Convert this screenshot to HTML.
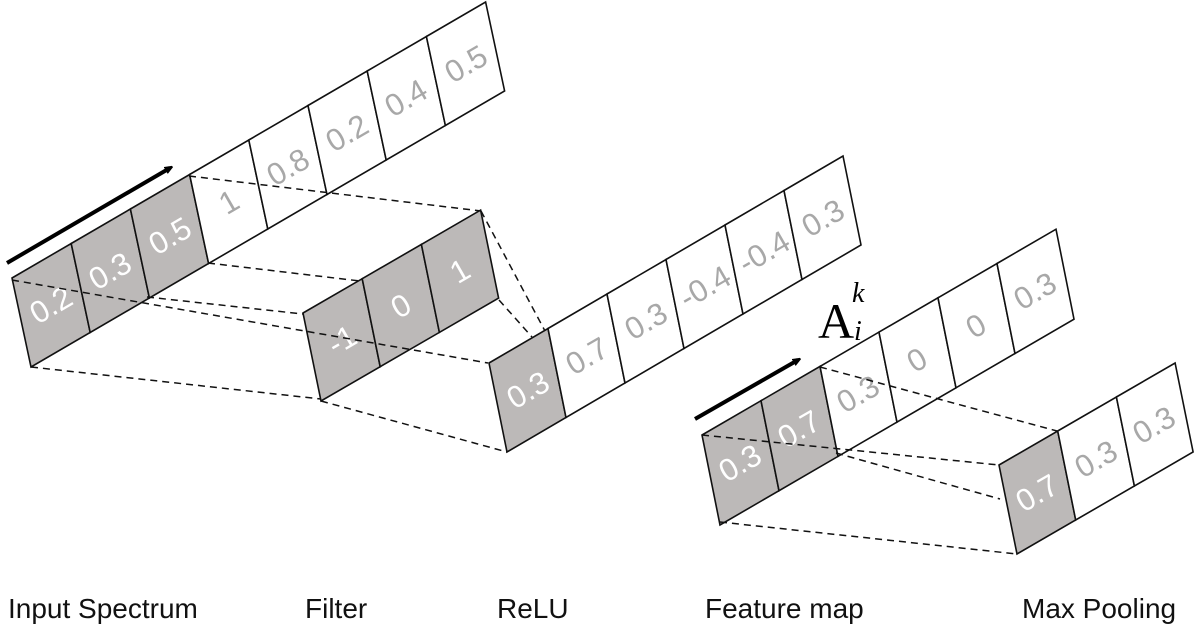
<!DOCTYPE html>
<html><head><meta charset="utf-8"><style>
html,body{margin:0;padding:0;background:#fff;width:1200px;height:630px;overflow:hidden}
svg{display:block}
.c{stroke:#111;stroke-width:1.6;fill:#fff}
.g{fill:#bcb9b8}
.d{stroke:#111;stroke-width:1.5;stroke-dasharray:7 5;fill:none}
.t{font-family:"Liberation Sans",sans-serif;font-size:31px;text-anchor:middle;dominant-baseline:central;fill:#a8a8a8}
.w{fill:#fff}
.lab{font-family:"Liberation Sans",sans-serif;font-size:28px;fill:#111}
</style></head><body>
<svg width="1200" height="630" viewBox="0 0 1200 630" xmlns="http://www.w3.org/2000/svg">
<defs><marker id="ah" markerWidth="8" markerHeight="8" refX="5" refY="4" orient="auto" markerUnits="userSpaceOnUse"><path d="M0,0 L10,4 L0,8 z" fill="#000"/></marker></defs>
<!-- input -->
<g>
<path class="c g" d="M12,278 l59.2,-34.5 l19,89 l-59.2,34.5 z"/>
<path class="c g" d="M71.2,243.5 l59.2,-34.5 l19,89 l-59.2,34.5 z"/>
<path class="c g" d="M130.4,209 l59.2,-34.5 l19,89 l-59.2,34.5 z"/>
<path class="c" d="M189.6,174.5 l59.2,-34.5 l19,89 l-59.2,34.5 z"/>
<path class="c" d="M248.8,140 l59.2,-34.5 l19,89 l-59.2,34.5 z"/>
<path class="c" d="M308,105.5 l59.2,-34.5 l19,89 l-59.2,34.5 z"/>
<path class="c" d="M367.2,71 l59.2,-34.5 l19,89 l-59.2,34.5 z"/>
<path class="c" d="M426.4,36.5 l59.2,-34.5 l19,89 l-59.2,34.5 z"/>
</g>
<text class="t w" transform="translate(51,305) rotate(-30)">0.2</text>
<text class="t w" transform="translate(110,271) rotate(-30)">0.3</text>
<text class="t w" transform="translate(170,236) rotate(-30)">0.5</text>
<text class="t" transform="translate(229,202) rotate(-30)">1</text>
<text class="t" transform="translate(288,167) rotate(-30)">0.8</text>
<text class="t" transform="translate(347,133) rotate(-30)">0.2</text>
<text class="t" transform="translate(406,98) rotate(-30)">0.4</text>
<text class="t" transform="translate(466,64) rotate(-30)">0.5</text>
<!-- filter -->
<path class="c g" d="M303,313 l59.2,-34.3 l18,88 l-59.2,34.3 z"/>
<path class="c g" d="M362.2,278.7 l59.2,-34.3 l18,88 l-59.2,34.3 z"/>
<path class="c g" d="M421.4,244.4 l59.2,-34.3 l18,88 l-59.2,34.3 z"/>
<text class="t w" transform="translate(342,340) rotate(-30)">-1</text>
<text class="t w" transform="translate(401,306) rotate(-30)">0</text>
<text class="t w" transform="translate(460,271) rotate(-30)">1</text>
<!-- relu -->
<path class="c g" d="M489,363 l59,-34.5 l18,89 l-59,34.5 z"/>
<path class="c" d="M548,328.5 l59,-34.5 l18,89 l-59,34.5 z"/>
<path class="c" d="M607,294 l59,-34.5 l18,89 l-59,34.5 z"/>
<path class="c" d="M666,259.5 l59,-34.5 l18,89 l-59,34.5 z"/>
<path class="c" d="M725,225 l59,-34.5 l18,89 l-59,34.5 z"/>
<path class="c" d="M784,190.5 l59,-34.5 l18,89 l-59,34.5 z"/>
<text class="t w" transform="translate(528,390) rotate(-30)">0.3</text>
<text class="t" transform="translate(587,356) rotate(-30)">0.7</text>
<text class="t" transform="translate(646,321) rotate(-30)">0.3</text>
<text class="t" transform="translate(705,287) rotate(-30)">-0.4</text>
<text class="t" transform="translate(764,252) rotate(-30)">-0.4</text>
<text class="t" transform="translate(823,218) rotate(-30)">0.3</text>
<!-- feature -->
<path class="c g" d="M702,435 l59,-34.3 l18,90 l-59,34.3 z"/>
<path class="c g" d="M761,400.7 l59,-34.3 l18,90 l-59,34.3 z"/>
<path class="c" d="M820,366.4 l59,-34.3 l18,90 l-59,34.3 z"/>
<path class="c" d="M879,332.1 l59,-34.3 l18,90 l-59,34.3 z"/>
<path class="c" d="M938,297.8 l59,-34.3 l18,90 l-59,34.3 z"/>
<path class="c" d="M997,263.5 l59,-34.3 l18,90 l-59,34.3 z"/>
<text class="t w" transform="translate(740,463) rotate(-30)">0.3</text>
<text class="t w" transform="translate(799,429) rotate(-30)">0.7</text>
<text class="t" transform="translate(858,394) rotate(-30)">0.3</text>
<text class="t" transform="translate(917,360) rotate(-30)">0</text>
<text class="t" transform="translate(976,326) rotate(-30)">0</text>
<text class="t" transform="translate(1035,291) rotate(-30)">0.3</text>
<!-- max pool -->
<path class="c g" d="M999,465 l58.7,-34 l18,89 l-58.7,34 z"/>
<path class="c" d="M1057.7,431 l58.7,-34 l18,89 l-58.7,34 z"/>
<path class="c" d="M1116.4,397 l58.7,-34 l18,89 l-58.7,34 z"/>
<text class="t w" transform="translate(1037,493) rotate(-30)">0.7</text>
<text class="t" transform="translate(1096,459) rotate(-30)">0.3</text>
<text class="t" transform="translate(1154,425) rotate(-30)">0.3</text>
<!-- dashed lines (on top) -->
<path class="d" d="M189,176 L481,211"/>
<path class="d" d="M208,263 L360,281"/>
<path class="d" d="M12,280 L488,363"/>
<path class="d" d="M147,297 L303,314"/>
<path class="d" d="M31,367 L321,399"/>
<path class="d" d="M481,211 L545,331"/>
<path class="d" d="M499,300 L532,337"/>
<path class="d" d="M321,401 L507,452"/>
<path class="d" d="M820,367 L1057,431"/>
<path class="d" d="M702,435 L999,465"/>
<path class="d" d="M836,453 L1000,499"/>
<path class="d" d="M720,522 L1017,554"/>
<!-- arrows -->
<line x1="7" y1="263" x2="170" y2="168" stroke="#000" stroke-width="4" marker-end="url(#ah)"/>
<line x1="695" y1="419" x2="798" y2="360" stroke="#000" stroke-width="4" marker-end="url(#ah)"/>
<!-- A_i^k -->
<text x="818" y="338" style="font-family:'Liberation Serif',serif;font-size:50px;fill:#000">A</text>
<text x="852" y="302" style="font-family:'Liberation Serif',serif;font-size:28px;font-style:italic;fill:#000">k</text>
<text x="854" y="340" style="font-family:'Liberation Serif',serif;font-size:28px;font-style:italic;fill:#000">i</text>
<!-- labels -->
<text class="lab" x="8" y="618">Input Spectrum</text>
<text class="lab" x="305" y="618">Filter</text>
<text class="lab" x="497" y="618">ReLU</text>
<text class="lab" x="705" y="618">Feature map</text>
<text class="lab" x="1022" y="618">Max Pooling</text>
</svg>
</body></html>
